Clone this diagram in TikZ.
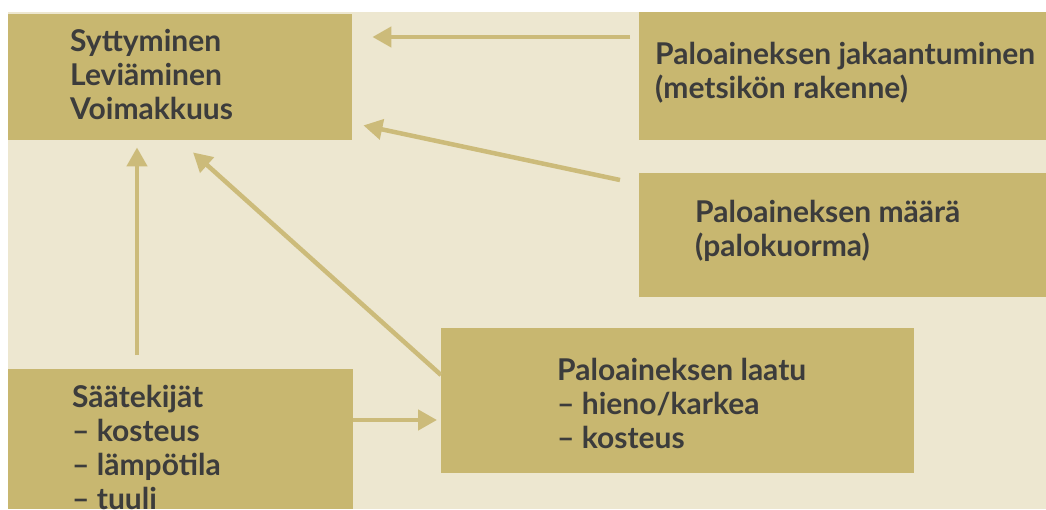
\documentclass[tikz,border=0pt]{standalone}
\usepackage{fontspec}
\setmainfont{Lato}
\usetikzlibrary{arrows.meta,calc}
\definecolor{paper}{HTML}{EDE7D0}
\definecolor{khaki}{HTML}{C8B770}
\definecolor{arrowtan}{HTML}{CCBB7A}
\definecolor{ink}{HTML}{3C3C3C}

\begin{document}
\begin{tikzpicture}[x=1pt,y=-1pt,
  box/.style={fill=khaki,draw=none,inner sep=0,anchor=north west},
  txt/.style={anchor=north west,inner sep=0,align=left,text=ink,font=\fontsize{30}{34}\selectfont\bfseries},
  arr/.style={draw=arrowtan,line width=4.5pt,-{Triangle[length=19pt,width=20pt]}}]
\useasboundingbox (0,0) rectangle (1046,509);
\fill[white] (0,0) rectangle (1046,509);
\fill[paper] (8,12) rectangle (1046,509);
% boxes
\node[box,minimum width=344,minimum height=126] (ilmio) at (8,14) {};
\node[box,minimum width=407,minimum height=128] (jakauma) at (639,12) {};
\node[box,minimum width=407,minimum height=124] (maara) at (639,173) {};
\node[box,minimum width=473,minimum height=145] (laatu) at (441,328) {};
\node[box,minimum width=345,minimum height=140] (saa) at (8,369) {};
% texts
\node[txt] (ilmiot) at (70,29) {Syttyminen\\Leviäminen\\Voimakkuus};
\node[txt] (jakaumat) at (655,42) {Paloaineksen jakaantuminen\\(metsikön rakenne)};
\node[txt] (maarat) at (695,200) {Paloaineksen määrä\\(palokuorma)};
\node[txt] (laatut) at (557,358) {Paloaineksen laatu\\– hieno/karkea\\– kosteus};
\node[txt] (saat) at (72,385) {Säätekijät\\– kosteus\\– lämpötila\\– tuuli};
% arrows
\draw[arr] ($(jakauma.north west)+(-9,25)$) -- ($(ilmio.north east)+(20,23)$);
\draw[arr] ($(maara.north west)+(-19,7)$) -- ($(ilmio.south east)+(11,-15)$);
\draw[arr] ($(laatu.north west)+(0,47)$) -- ($(ilmio.south west)+(185,12)$);
\draw[arr] ($(saa.north west)+(129,-14)$) -- ($(ilmio.south west)+(129,7)$);
\draw[arr] ($(saa.north east)+(0,51)$) -- ($(laatu.north west)+(-4,92)$);
\end{tikzpicture}
\end{document}
